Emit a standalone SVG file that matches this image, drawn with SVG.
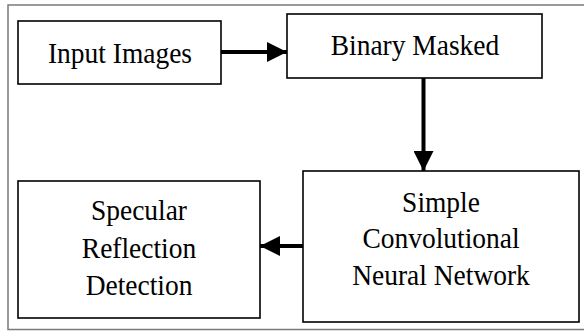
<svg xmlns="http://www.w3.org/2000/svg" width="584" height="331" viewBox="0 0 584 331">
<style>
.frame{fill:none;stroke:#7a7a7a;stroke-width:1.5}
.box{fill:#fff;stroke:#000;stroke-width:1.6}
.lbl{font-family:"Liberation Serif","Times New Roman",serif;font-size:30px;fill:#000;text-anchor:middle}
.conn{stroke:#000;stroke-width:4;fill:none}
</style>
<defs>
<marker id="ah" viewBox="0 0 20 20" refX="20" refY="10" markerWidth="20" markerHeight="20" markerUnits="userSpaceOnUse" orient="auto">
<path d="M0,0 L20,10 L0,20 z" fill="#000"/>
</marker>
</defs>
<rect width="584" height="331" fill="#fff"/>
<rect class="frame" x="8" y="5" width="590" height="324.5"/>
<g id="node-input">
<rect class="box" x="18" y="21" width="203" height="63"/>
<g transform="translate(120,0) scale(0.915,1)"><text class="lbl" x="0" y="63">Input Images</text></g>
</g>
<g id="node-binary">
<rect class="box" x="287" y="14" width="255" height="64"/>
<g transform="translate(415,0) scale(0.915,1)"><text class="lbl" x="0" y="55">Binary Masked</text></g>
</g>
<g id="node-cnn">
<rect class="box" x="303" y="171" width="276" height="151"/>
<g transform="translate(441,0) scale(0.915,1)">
<text class="lbl" x="0" y="212">Simple</text>
<text class="lbl" x="0" y="248.5">Convolutional</text>
<text class="lbl" x="0" y="285">Neural Network</text>
</g>
</g>
<g id="node-specular">
<rect class="box" x="18" y="181" width="242" height="137"/>
<g transform="translate(139,0) scale(0.915,1)">
<text class="lbl" x="0" y="220.5">Specular</text>
<text class="lbl" x="0" y="258">Reflection</text>
<text class="lbl" x="0" y="295">Detection</text>
</g>
</g>
<g id="connectors">
<line class="conn" x1="221" y1="52" x2="287" y2="52" marker-end="url(#ah)"/>
<line class="conn" x1="423.5" y1="78" x2="423.5" y2="171" marker-end="url(#ah)"/>
<line class="conn" x1="303" y1="246" x2="260" y2="246" marker-end="url(#ah)"/>
</g>
</svg>
